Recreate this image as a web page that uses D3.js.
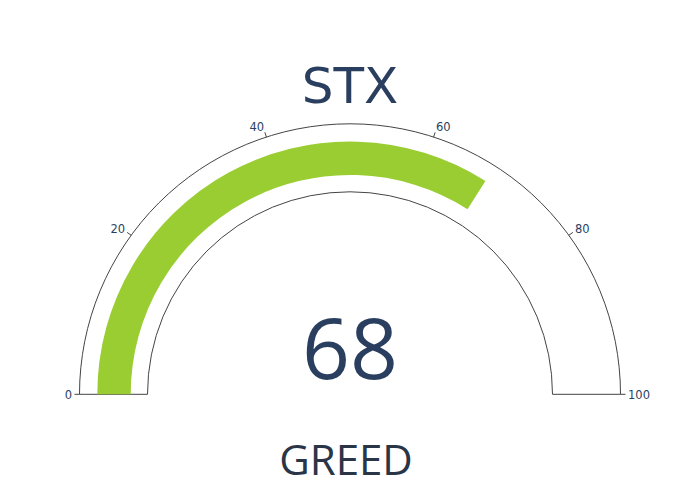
<!DOCTYPE html>
<html>
<head>
<meta charset="utf-8">
<script src="https://cdn.jsdelivr.net/npm/d3@7"></script>
<style>
  html, body { margin: 0; padding: 0; background: #fff; }
  svg { display: block; font-family: "Open Sans", sans-serif; }
</style>
</head>
<body>
<svg id="chart" width="700" height="500"></svg>
<script>
const titleText = "STX";
const values = [68];
const rangeDomain = [0, 100];
const tickValues = [0, 20, 40, 60, 80, 100];
const sentimentLabels = ["GREED"];

const svg = d3.select("#chart");
const cx = 350, cy = 394.3;
const rOuter = 270.5, rInner = 202.5;
const barOuter = 252.7, barInner = 219.3;
const textColor = "#2a3f5f";

// angle scale: value -> radians (d3.arc convention: 0 at top, clockwise)
const angle = d3.scaleLinear().domain(rangeDomain).range([-Math.PI / 2, Math.PI / 2]);

const g = svg.append("g").attr("transform", `translate(${cx},${cy})`);

// background gauge
g.append("path")
  .attr("d", d3.arc()({innerRadius: rInner, outerRadius: rOuter,
    startAngle: angle(rangeDomain[0]), endAngle: angle(rangeDomain[1])}))
  .attr("fill", "#fff")
  .attr("stroke", "#444")
  .attr("stroke-width", 1);

// value bar
g.selectAll("path.bar").data(values).join("path")
  .attr("class", "bar")
  .attr("d", d => d3.arc()({innerRadius: barInner, outerRadius: barOuter,
    startAngle: angle(rangeDomain[0]), endAngle: angle(d)}))
  .attr("fill", "#9acd32");

// ticks
const tickLen = 5;
const labelR = 278;
const capH = 8.4;
tickValues.forEach(t => {
  const a = angle(t); // from top clockwise
  const sx = Math.sin(a), sy = -Math.cos(a);
  g.append("line")
    .attr("x1", sx * rOuter).attr("y1", sy * rOuter)
    .attr("x2", sx * (rOuter + tickLen)).attr("y2", sy * (rOuter + tickLen))
    .attr("stroke", "#444").attr("stroke-width", 1);
  const anchor = sx < -0.01 ? "end" : (sx > 0.01 ? "start" : "middle");
  const px = sx * labelR, py = sy * labelR;
  const centerY = py + sy * capH / 2 + 0.5;
  g.append("text")
    .attr("font-family", "'DejaVu Sans', Verdana, sans-serif")
    .attr("font-size", 11.5)
    .attr("fill", textColor)
    .attr("text-anchor", anchor)
    .attr("x", px)
    .attr("y", centerY + capH / 2)
    .text(t);
});

// title
svg.append("text")
  .attr("x", 350).attr("y", 102.7)
  .attr("text-anchor", "middle")
  .attr("font-family", "'DejaVu Sans', Verdana, sans-serif")
  .attr("font-size", 50)
  .attr("fill", textColor)
  .text(titleText);

// value number
svg.selectAll("text.val").data(values).join("text")
  .attr("class", "val")
  .attr("x", 350).attr("y", 379)
  .attr("text-anchor", "middle")
  .attr("font-size", 84)
  .attr("fill", textColor)
  .text(d => d);

// sentiment label
svg.selectAll("text.lbl").data(sentimentLabels).join("text")
  .attr("class", "lbl")
  .attr("x", 346).attr("y", 474.5)
  .attr("text-anchor", "middle")
  .attr("font-size", 42)
  .attr("fill", "#2a3548")
  .text(d => d);
</script>
</body>
</html>
